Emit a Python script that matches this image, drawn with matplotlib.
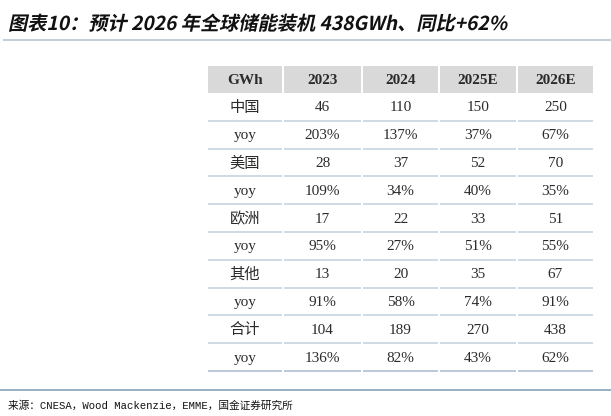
import matplotlib
matplotlib.use("Agg")
import matplotlib.pyplot as plt
import matplotlib.transforms as mtransforms
from matplotlib.patches import Rectangle, PathPatch
from matplotlib.textpath import TextPath
from matplotlib.font_manager import FontProperties

# table data
header = ["GWh", "2023", "2024", "2025E", "2026E"]
regions = ["中国", "美国", "欧洲", "其他", "合计"]
install = [
    ["46", "110", "150", "250"],
    ["28", "37", "52", "70"],
    ["17", "22", "33", "51"],
    ["13", "20", "35", "67"],
    ["104", "189", "270", "438"],
]
yoy = [
    ["203%", "137%", "37%", "67%"],
    ["109%", "34%", "40%", "35%"],
    ["95%", "27%", "51%", "55%"],
    ["91%", "58%", "74%", "91%"],
    ["136%", "82%", "43%", "62%"],
]

title = "图表10：预计 2026 年全球储能装机 438GWh、同比+62%"
source = "来源：CNESA，Wood Mackenzie，EMME，国金证券研究所"

W, H = 611, 416
fig = plt.figure(figsize=(W / 100, H / 100), dpi=100)
ax = fig.add_axes([0, 0, 1, 1])
ax.set_xlim(0, W)
ax.set_ylim(H, 0)
ax.axis("off")

px = 0.72  # one pixel in points

# title, drawn as a skewed path to get the italic look
tp = TextPath((0, 0), title, size=19.2,
              prop=FontProperties(family=["Noto Sans CJK SC", "DejaVu Sans"], weight="bold"))
tr = mtransforms.Affine2D().skew_deg(12, 0).scale(1, -1).translate(8, 30) + ax.transData
ax.add_patch(PathPatch(tp, transform=tr, facecolor="#111111", edgecolor="none"))

ax.plot([3, W], [40, 40], color="#c3cfdb", lw=2 * px, solid_capstyle="butt")
ax.plot([0, W], [390, 390], color="#7a98b4", lw=1.5 * px, solid_capstyle="butt")

# table geometry
col_x = [207, 283, 362, 439, 517, 594]
head_top, head_bot = 66, 93
row_h = 27.8

cell_font = ["Liberation Serif", "Noto Sans CJK SC"]
text_col = "#2b2b2b"

for j, lab in enumerate(header):
    x0, x1 = col_x[j], col_x[j + 1]
    ax.add_patch(Rectangle((x0 + 1, head_top), x1 - x0 - 2, head_bot - head_top,
                           facecolor="#d9d9d9", edgecolor="none"))
    ax.text((x0 + x1) / 2, (head_top + head_bot) / 2 + 1, lab, ha="center", va="center",
            fontsize=11, family=cell_font, weight="bold", color=text_col)

rows = []
for i, reg in enumerate(regions):
    rows.append([reg] + install[i])
    rows.append(["yoy"] + yoy[i])

for r, cells in enumerate(rows):
    y0 = head_bot + r * row_h
    y1 = y0 + row_h
    for j, val in enumerate(cells):
        x0, x1 = col_x[j], col_x[j + 1]
        ax.text((x0 + x1) / 2, (y0 + y1) / 2 + 1, val, ha="center", va="center",
                fontsize=11, family=cell_font, color=text_col)
        lc = "#b4c4d4" if r == len(rows) - 1 else "#ccd8e4"
        ax.plot([x0 + 1, x1 - 1], [y1, y1], color=lc, lw=1.8 * px, solid_capstyle="butt")

ax.text(8, 406, source, ha="left", va="center", fontsize=7.7,
        family=["Liberation Mono", "Noto Sans CJK SC"], color="#111111")

fig.savefig("out.png", dpi=100)
